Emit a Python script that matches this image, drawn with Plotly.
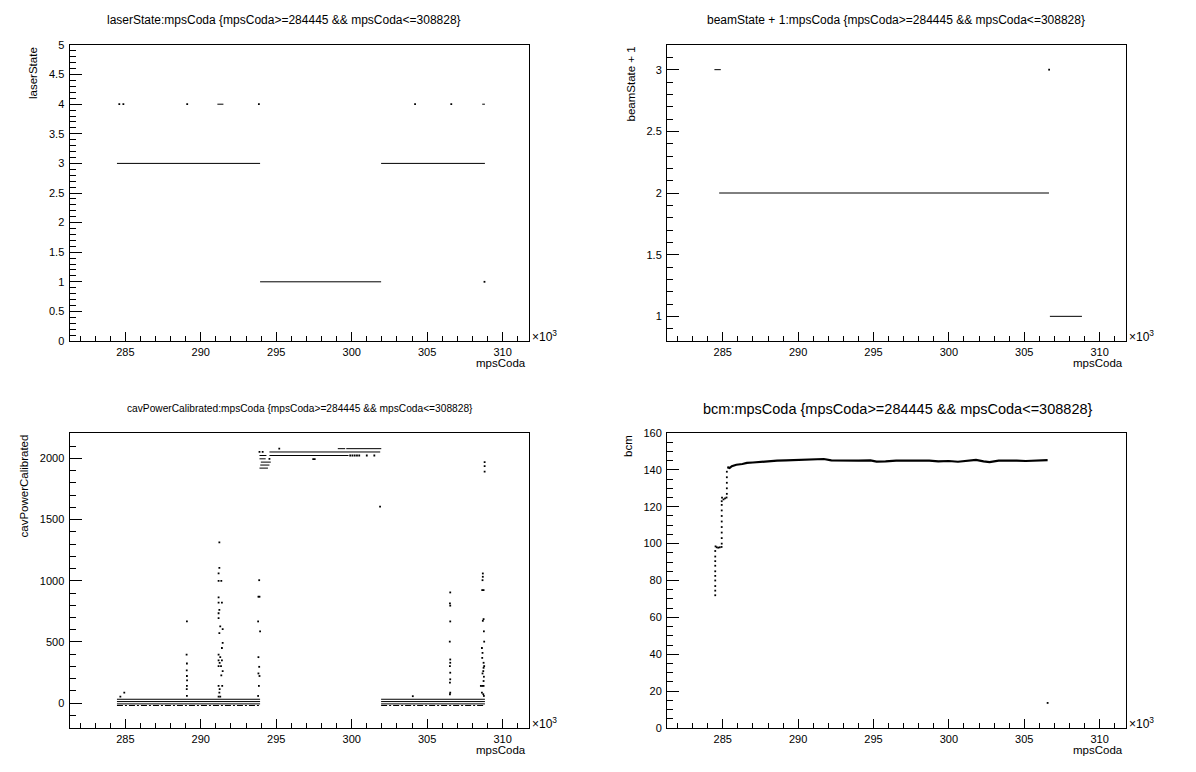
import plotly.graph_objects as go
import numpy as np

W, H = 1196, 772
OFF = 8  # page body margin of the html page
FONT = "Liberation Sans"

# ---------------- data (x in mpsCoda units) ----------------
# laserState
laser_seg_x0 = [284445, 293930, 301950, 291100, 308650]
laser_seg_x1 = [293930, 301950, 308828, 291500, 308828]
laser_seg_y = [3, 1, 3, 4, 4]
laser_dot_x = [284600, 284870, 289100, 293850, 304200, 306600, 308800]
laser_dot_y = [4, 4, 4, 4, 4, 4, 1]

# beamState + 1
beam_seg_x0 = [284445, 284760, 306700]
beam_seg_x1 = [284870, 306640, 308828]
beam_seg_y = [3, 2, 1]
beam_dot_x = [306650]
beam_dot_y = [3]

# cavPowerCalibrated : solid segments
cav_seg_x0 = [284445, 284445, 284445, 301950, 301950, 301950,
              294550, 293890, 294550, 299080, 299640,
              293890, 293980, 293940, 293890]
cav_seg_x1 = [293930, 293930, 293930, 308828, 308828, 308828,
              301890, 294350, 299790, 299570, 301960,
              294300, 294640, 294550, 294450]
cav_seg_y = [32, 13, -6, 32, 13, -6,
             2053, 2024, 2024, 2080, 2080,
             1997, 1970, 1946, 1921]
# dashed low-level band
cav_dash_x0 = [284445, 301950]
cav_dash_x1 = [293930, 308828]
cav_dash_y = [-19, -19]
# isolated points
cav_dot_x = [284670, 284930, 293890, 294100, 294550, 295200, 297450, 297550, 301880,
             299900, 300050, 300200, 300350, 300500, 301000, 301500, 304050,
             # spike near 289.1k
             289080, 289060, 289080, 289070, 289080, 289090, 289080, 289070, 289080,
             # spike near 291.3k
             291230, 291230, 291180, 291180, 291360, 291180, 291180, 291400, 291230,
             291180, 291180, 291290, 291450, 291230, 291450, 291400, 291180, 291290,
             291180, 291400, 291250, 291340, 291180, 291450, 291360, 291180, 291420,
             291250, 291230, 291180, 291290,
             # spike near 293.85k
             293870, 293820, 293890, 293800, 293930, 293820, 293870, 293820, 293890,
             293850, 293800,
             # spike near 306.5k
             306530, 306510, 306530, 306530, 306500, 306530, 306530, 306510, 306530,
             306530, 306510, 306530, 306510,
             # spike near 308.7k
             308810, 308810, 308810, 308690, 308690, 308670, 308650, 308740, 308740,
             308690, 308760, 308780, 308630, 308670, 308650, 308740, 308780, 308740,
             308720, 308670, 308760, 308740, 308560, 308650, 308740, 308630, 308720,
             308760]
cav_dot_y = [54, 86, 2053, 2053, 1997, 2080, 1995, 1995, 1606,
             2024, 2024, 2024, 2024, 2024, 2024, 2024, 57,
             668, 397, 324, 268, 222, 186, 141, 114, 59,
             1314, 1105, 1060, 1000, 1000, 865, 822, 822, 762,
             735, 695, 627, 605, 573, 492, 451, 397, 376,
             349, 349, 330, 303, 303, 262, 227, 141, 141,
             114, 86, 54, 54,
             1005, 870, 870, 668, 586, 376, 297, 243, 222,
             141, 59,
             905, 816, 797, 668, 503, 357, 330, 303, 249,
             195, 168, 86, 73,
             1970, 1938, 1892, 1060, 1033, 1005, 924, 924, 687,
             673, 587, 503, 451, 411, 370, 330, 303, 289,
             262, 243, 216, 181, 141, 141, 141, 86, 73,
             59]

# bcm
bcm_step_x = [284500] * 10 + [284520, 284600, 284700, 284800, 284920] + [284930] * 9 + \
             [284950, 285050, 285150, 285250] + [285270] * 5
bcm_step_y = [72, 74.5, 77, 80, 82.5, 85, 88, 90.5, 93, 96,
              98.5, 98, 97.8, 98, 98.2,
              100, 103, 106, 109, 112, 115, 118, 121, 123,
              125, 124, 124.5, 125,
              127, 130, 133, 136, 139]
bcm_line_x = [285300, 285450, 285600, 285900, 286300, 286600, 287000, 287600, 288000,
              288600, 289200, 289900, 290500, 291200, 291700, 292200, 293000, 294000,
              294800, 295200, 295800, 296500, 297300, 298000, 298700, 299300, 300000,
              300600, 301300, 301800, 302300, 302700, 303300, 303900, 304500, 305100,
              305700, 306200, 306550]
bcm_line_y = [141.5, 141, 142, 142.8, 143.2, 143.8, 144, 144.5, 144.6,
              145, 145.2, 145.4, 145.2, 145.5, 145.9, 145.2, 145, 145,
              145.1, 144.5, 144.6, 145, 145, 145.2, 145, 144.6, 144.8,
              144.4, 145, 145.4, 144.6, 144.2, 145, 145.2, 145, 144.8,
              144.9, 145, 145.3]
bcm_out_x = [306550]
bcm_out_y = [13.6]

titles = ["laserState:mpsCoda {mpsCoda>=284445 && mpsCoda<=308828}",
          "beamState + 1:mpsCoda {mpsCoda>=284445 && mpsCoda<=308828}",
          "cavPowerCalibrated:mpsCoda {mpsCoda>=284445 && mpsCoda<=308828}",
          "bcm:mpsCoda {mpsCoda>=284445 && mpsCoda<=308828}"]
ytitles = ["laserState", "beamState + 1", "cavPowerCalibrated", "bcm"]
xtitle = "mpsCoda"


# ---------------- helpers ----------------
def k(v):
    return [x / 1000.0 for x in v]


def seg_xy(x0, x1, y):
    xs, ys = [], []
    for a, b, c in zip(x0, x1, y):
        xs += [a / 1000.0, b / 1000.0, None]
        ys += [c, c, None]
    return xs, ys


def px(x):
    return (x - OFF) / W


def py(y):
    return 1 - (y - OFF) / H


fig = go.Figure()
line = dict(color="black", width=1)
mk = dict(color="black", size=1.8, symbol="square", line=dict(width=0))

# panel 1
sx, sy = seg_xy(laser_seg_x0, laser_seg_x1, laser_seg_y)
fig.add_trace(go.Scatter(x=sx, y=sy, mode="lines", line=line, xaxis="x", yaxis="y"))
fig.add_trace(go.Scatter(x=k(laser_dot_x), y=laser_dot_y, mode="markers", marker=mk, xaxis="x", yaxis="y"))
# panel 2
sx, sy = seg_xy(beam_seg_x0, beam_seg_x1, beam_seg_y)
fig.add_trace(go.Scatter(x=sx, y=sy, mode="lines", line=line, xaxis="x2", yaxis="y2"))
fig.add_trace(go.Scatter(x=k(beam_dot_x), y=beam_dot_y, mode="markers", marker=mk, xaxis="x2", yaxis="y2"))
# panel 3
sx, sy = seg_xy(cav_seg_x0, cav_seg_x1, cav_seg_y)
fig.add_trace(go.Scatter(x=sx, y=sy, mode="lines", line=line, xaxis="x3", yaxis="y3"))
sx, sy = seg_xy(cav_dash_x0, cav_dash_x1, cav_dash_y)
fig.add_trace(go.Scatter(x=sx, y=sy, mode="lines", line=dict(color="black", width=1, dash="6px,2px,2px,2px"),
                         xaxis="x3", yaxis="y3"))
fig.add_trace(go.Scatter(x=k(cav_dot_x), y=cav_dot_y, mode="markers", marker=mk, xaxis="x3", yaxis="y3"))
# panel 4
fig.add_trace(go.Scatter(x=k(bcm_step_x), y=bcm_step_y, mode="markers", marker=mk, xaxis="x4", yaxis="y4"))
fig.add_trace(go.Scatter(x=k(bcm_line_x), y=bcm_line_y, mode="lines", line=dict(color="black", width=2.2),
                         xaxis="x4", yaxis="y4"))
fig.add_trace(go.Scatter(x=k(bcm_out_x), y=bcm_out_y, mode="markers", marker=mk, xaxis="x4", yaxis="y4"))

# ---------------- axes ----------------
XR = [281.3, 311.75]
xdom_l = [px(69.5), px(529)]
xdom_r = [px(667), px(1126)]
ydom_t = [py(341), py(45)]
ydom_b = [py(728), py(433)]
tickfont = dict(family=FONT, size=11, color="black")


def xax(dom, anchor):
    return dict(domain=dom, anchor=anchor, range=XR, showline=True, linecolor="black", linewidth=1,
                mirror=True, ticks="inside", ticklen=9, tickwidth=1, tickcolor="black",
                tick0=0, dtick=5, showgrid=False, zeroline=False, tickfont=tickfont,
                ticklabelstandoff=1,
                minor=dict(ticks="inside", ticklen=5, tickwidth=1, tickcolor="black", dtick=1,
                           tick0=0, showgrid=False))


def yax(dom, anchor, rng, dt, mdt):
    return dict(domain=dom, anchor=anchor, range=rng, showline=True, linecolor="black", linewidth=1,
                mirror=True, ticks="inside", ticklen=12, tickwidth=1, tickcolor="black",
                tick0=0, dtick=dt, showgrid=False, zeroline=False, tickfont=tickfont,
                ticklabelstandoff=2,
                minor=dict(ticks="inside", ticklen=6, tickwidth=1, tickcolor="black", dtick=mdt,
                           tick0=0, showgrid=False))


fig.update_layout(
    width=W, height=H, margin=dict(l=0, r=0, t=0, b=0, autoexpand=False),
    paper_bgcolor="white", plot_bgcolor="white", showlegend=False,
    xaxis=xax(xdom_l, "y"), yaxis=yax(ydom_t, "x", [0, 5], 0.5, 0.1),
    xaxis2=xax(xdom_r, "y2"), yaxis2=yax(ydom_t, "x2", [0.8, 3.2], 0.5, 0.1),
    xaxis3=xax(xdom_l, "y3"), yaxis3=yax(ydom_b, "x3", [-203, 2208], 500, 100),
    xaxis4=xax(xdom_r, "y4"), yaxis4=yax(ydom_b, "x4", [0, 160], 20, 5),
)

ann = []
title_pos = [(284, 20, 12), (896, 20, 12), (300, 409, 10.2), (898, 409, 14.5)]
for t, (x, y, s) in zip(titles, title_pos):
    ann.append(dict(text=t, x=px(x), y=py(y), xref="paper", yref="paper", showarrow=False,
                    xanchor="center", yanchor="middle", font=dict(family=FONT, size=s, color="black")))
ytit_pos = [(33, 45), (631, 45), (24, 433), (628, 433)]
for t, (x, y) in zip(ytitles, ytit_pos):
    ann.append(dict(text=t, x=px(x), y=py(y), xref="paper", yref="paper", showarrow=False,
                    textangle=-90, xanchor="center", yanchor="top",
                    font=dict(family=FONT, size=11.5, color="black")))
for (x, y) in [(528, 363), (1125, 363), (528, 750), (1125, 750)]:
    ann.append(dict(text=xtitle, x=px(x), y=py(y), xref="paper", yref="paper", showarrow=False,
                    xanchor="right", yanchor="middle", font=dict(family=FONT, size=11.5, color="black")))
for (x, y) in [(530, 336), (1127, 336), (530, 723), (1127, 723)]:
    ann.append(dict(text="×10<sup>3</sup>", x=px(x), y=py(y), xref="paper", yref="paper", showarrow=False,
                    xanchor="left", yanchor="middle", font=dict(family=FONT, size=12, color="black")))
fig.update_layout(annotations=ann)

fig.write_html("out.html")
